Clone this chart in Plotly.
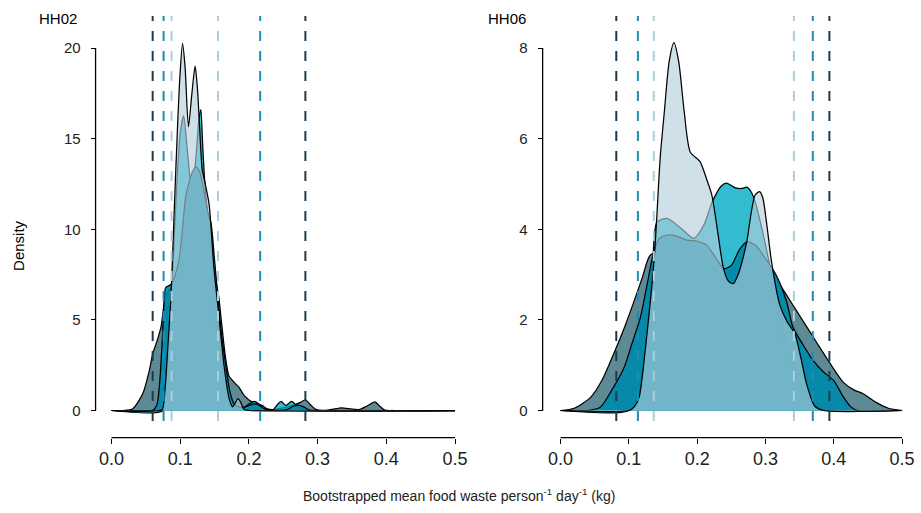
import plotly.graph_objects as go

# ---------------------------------------------------------------
# Bootstrapped density estimates, household HH02
# ---------------------------------------------------------------
hh02_dark_x = [0.0, 0.02, 0.031, 0.0454, 0.055, 0.06, 0.066, 0.072, 0.078, 0.083, 0.09, 0.1, 0.11, 0.12,
               0.13, 0.14, 0.15, 0.156, 0.16, 0.166, 0.171, 0.176, 0.1807, 0.1855, 0.193, 0.2048, 0.219,
               0.226, 0.235, 0.25, 0.265, 0.275, 0.282, 0.29, 0.298, 0.315, 0.335, 0.345, 0.36, 0.372,
               0.3836, 0.39, 0.398, 0.41, 0.5]
hh02_dark_y = [0.0, 0.01, 0.1, 0.92, 2.2, 3.13, 3.8, 4.6, 6.2, 6.6, 7.0, 8.0, 10.5, 12.0,
               12.0, 9.5, 7.5, 6.3, 4.9, 2.9, 1.9, 1.66, 1.47, 1.29, 0.83, 0.46, 0.28,
               0.1, 0.05, 0.15, 0.3, 0.45, 0.58, 0.3, 0.05, 0.02, 0.15, 0.1, 0.05, 0.25,
               0.47, 0.25, 0.02, 0.0, 0.0]

hh02_cyan_x = [0.0, 0.075, 0.08, 0.085, 0.09, 0.095, 0.1, 0.105, 0.11, 0.117, 0.123, 0.127, 0.13, 0.1324,
               0.135, 0.138, 0.142, 0.148, 0.155, 0.162, 0.17, 0.178, 0.19, 0.2, 0.208, 0.215, 0.222,
               0.235, 0.242, 0.247, 0.254, 0.262, 0.27, 0.278, 0.29, 0.5]
hh02_cyan_y = [0.0, 0.0, 1.5, 4.5, 8.5, 12.5, 15.3, 16.25, 14.5, 12.1, 14.0, 16.0, 16.6, 14.9,
               13.0, 11.6, 10.0, 7.0, 4.0, 1.8, 0.5, 0.1, 0.1, 0.35, 0.5, 0.35, 0.05,
               0.03, 0.35, 0.5, 0.28, 0.5, 0.25, 0.05, 0.0, 0.0]

hh02_teal_x = [0.0, 0.06, 0.066, 0.07, 0.074, 0.077, 0.079, 0.0865, 0.092, 0.0986, 0.104, 0.108, 0.117,
               0.1227, 0.128, 0.134, 0.14, 0.145, 0.15, 0.155, 0.16, 0.166, 0.172, 0.178, 0.185, 0.195,
               0.205, 0.212, 0.22, 0.228, 0.255, 0.265, 0.272, 0.28, 0.288, 0.3, 0.5]
hh02_teal_y = [0.0, 0.0, 0.3, 1.5, 4.0, 6.3, 6.8, 6.95, 7.4, 8.4, 10.3, 11.8, 13.1,
               13.44, 13.2, 12.2, 11.0, 10.3, 8.3, 6.2, 4.2, 2.6, 1.1, 0.4, 0.2, 0.2,
               0.35, 0.35, 0.15, 0.02, 0.05, 0.25, 0.3, 0.2, 0.02, 0.0, 0.0]

hh02_light_x = [0.0, 0.07, 0.074, 0.078, 0.082, 0.0865, 0.0913, 0.0961, 0.0995, 0.1034, 0.107, 0.112,
                0.117, 0.1217, 0.125, 0.128, 0.132, 0.137, 0.142, 0.149, 0.1565, 0.164, 0.171, 0.176,
                0.18, 0.184, 0.188, 0.193, 0.2, 0.5]
hh02_light_y = [0.0, 0.0, 0.05, 1.2, 3.5, 6.26, 11.05, 15.65, 18.4, 20.26, 19.0, 15.65,
                17.5, 19.0, 17.8, 15.8, 13.3, 12.4, 11.4, 7.9, 5.15, 2.4, 0.7, 0.2,
                0.4, 0.65, 0.45, 0.05, 0.0, 0.0]

# ---------------------------------------------------------------
# Bootstrapped density estimates, household HH06
# ---------------------------------------------------------------
hh06_dark_x = [0.0, 0.02, 0.044, 0.06, 0.08, 0.094, 0.108, 0.12, 0.13, 0.14, 0.16, 0.2, 0.24, 0.27, 0.3,
               0.319, 0.335, 0.356, 0.375, 0.392, 0.414, 0.43, 0.443, 0.462, 0.48, 0.5]
hh06_dark_y = [0.0, 0.05, 0.29, 0.65, 1.33, 1.85, 2.43, 2.95, 3.4, 3.52, 3.65, 3.55, 3.0, 3.4, 3.25,
               2.83, 2.45, 1.95, 1.5, 1.1, 0.62, 0.45, 0.37, 0.18, 0.05, 0.0]

hh06_cyan_x = [0.0, 0.1, 0.115, 0.125, 0.135, 0.141, 0.156, 0.178, 0.195, 0.21, 0.222, 0.235, 0.243,
               0.255, 0.265, 0.273, 0.28, 0.287, 0.295, 0.305, 0.315, 0.325, 0.335, 0.35, 0.365,
               0.38, 0.39, 0.5]
hh06_cyan_y = [0.0, 0.0, 0.4, 1.5, 3.3, 4.15, 4.24, 4.0, 3.8, 4.1, 4.6, 4.95, 5.02,
               4.92, 4.9, 4.93, 4.8, 4.5, 4.0, 3.3, 2.5, 1.8, 1.2, 0.6, 0.25,
               0.05, 0.0, 0.0]

hh06_teal_x = [0.0, 0.04, 0.058, 0.075, 0.093, 0.105, 0.117, 0.127, 0.137, 0.145, 0.156, 0.17, 0.185,
               0.2, 0.214, 0.228, 0.239, 0.25, 0.262, 0.273, 0.285, 0.297, 0.316, 0.331, 0.34, 0.355,
               0.37, 0.385, 0.4, 0.414, 0.425, 0.435, 0.5]
hh06_teal_y = [0.0, 0.0, 0.07, 0.45, 0.95, 1.5, 2.06, 2.8, 3.54, 3.8, 3.87, 3.85, 3.76,
               3.74, 3.65, 3.35, 3.13, 3.2, 3.55, 3.72, 3.65, 3.42, 2.98, 2.4, 1.85, 1.45,
               1.1, 0.85, 0.66, 0.3, 0.08, 0.0, 0.0]

hh06_light_x = [0.0, 0.1, 0.108, 0.115, 0.124, 0.134, 0.138, 0.141, 0.146, 0.152, 0.159, 0.166, 0.173,
                0.181, 0.19, 0.204, 0.214, 0.2216, 0.23, 0.2386, 0.246, 0.253, 0.26, 0.266, 0.2726,
                0.2847, 0.2915, 0.296, 0.302, 0.309, 0.321, 0.332, 0.343, 0.352, 0.36, 0.372, 0.385, 0.5]
hh06_light_y = [0.0, 0.0, 0.08, 0.29, 1.33, 2.8, 3.54, 4.3, 5.6, 6.6, 7.7, 8.12, 7.7,
                6.6, 5.7, 5.5, 5.1, 4.75, 3.95, 3.13, 2.85, 2.8, 3.0, 3.3, 3.72,
                4.75, 4.83, 4.7, 4.1, 3.27, 2.33, 1.95, 1.7, 1.15, 0.6, 0.1, 0.0, 0.0]

# Interval limits (dashed lines), one pair per estimate
hh02_limits = {"dark": [0.0599, 0.2822], "teal": [0.0758, 0.2164], "light": [0.0874, 0.155]}
hh06_limits = {"dark": [0.0816, 0.3936], "teal": [0.1132, 0.3693], "light": [0.1365, 0.3416]}

x_ticks = [0.0, 0.1, 0.2, 0.3, 0.4, 0.5]
x_tick_text = ["0.0", "0.1", "0.2", "0.3", "0.4", "0.5"]
hh02_y_ticks = [0, 5, 10, 15, 20]
hh06_y_ticks = [0, 2, 4, 6, 8]

# ---------------------------------------------------------------
# Styling
# ---------------------------------------------------------------
W, H = 921, 513
FONT = "Liberation Sans, Arial, Helvetica, sans-serif"
FILLS = {
    "dark": "rgba(26,88,104,0.70)",
    "cyan": "rgba(0,171,195,0.80)",
    "teal": "rgba(0,138,170,0.92)",
    "light": "rgba(181,206,219,0.63)",
}
DASH_COLORS = {"dark": "#1b3a4e", "teal": "#1c8db5", "light": "#a9cfe0"}


def px_x(p):
    return p / W


def px_y(p):
    return 1 - p / H


fig = go.Figure()

panels = [
    ("x", "y", [
        ("dark", hh02_dark_x, hh02_dark_y),
        ("cyan", hh02_cyan_x, hh02_cyan_y),
        ("teal", hh02_teal_x, hh02_teal_y),
        ("light", hh02_light_x, hh02_light_y),
    ]),
    ("x2", "y2", [
        ("dark", hh06_dark_x, hh06_dark_y),
        ("cyan", hh06_cyan_x, hh06_cyan_y),
        ("teal", hh06_teal_x, hh06_teal_y),
        ("light", hh06_light_x, hh06_light_y),
    ]),
]

for xa, ya, curves in panels:
    for key, xs, ys in curves:
        fig.add_trace(go.Scatter(
            x=xs, y=ys, xaxis=xa, yaxis=ya,
            mode="lines", fill="tozeroy", fillcolor=FILLS[key],
            line=dict(color="black", width=1.25, shape="spline", smoothing=0.7),
            hoverinfo="skip", showlegend=False,
        ))

# Positions of the (offset) axis lines
x_axis_pos = px_y(437.7)
y_axis_pos = {"y": px_x(96), "y2": px_x(545)}

shapes = []
for xa, ya, limits in [("x", "y", hh02_limits), ("x2", "y2", hh06_limits)]:
    for key in ["light", "teal", "dark"]:
        for v in limits[key]:
            shapes.append(dict(
                type="line", xref=xa, yref=ya + " domain", x0=v, x1=v, y0=0, y1=1,
                line=dict(color=DASH_COLORS[key], width=2, dash="10px,10px"), layer="above",
            ))

# Capped axis lines
for xa, ya, ytop in [("x", "y", 20), ("x2", "y2", 8)]:
    shapes.append(dict(type="line", xref=xa, yref="paper", x0=0, x1=0.5,
                       y0=x_axis_pos, y1=x_axis_pos, line=dict(color="black", width=1.3)))
    shapes.append(dict(type="line", xref="paper", yref=ya, x0=y_axis_pos[ya], x1=y_axis_pos[ya],
                       y0=0, y1=ytop, line=dict(color="black", width=1.3)))

y_domain = [px_y(421), px_y(16)]

axis_common = dict(showgrid=False, zeroline=False, showline=False, ticks="outside",
                   ticklen=5, tickwidth=1.2, tickcolor="black")
x_font = dict(size=18, family=FONT, color="#222222")
y_font = dict(size=15, family=FONT, color="#222222")

fig.update_layout(
    width=W, height=H,
    margin=dict(l=0, r=0, t=0, b=0),
    paper_bgcolor="white", plot_bgcolor="white",
    showlegend=False,
    font=dict(family=FONT, color="#222222"),
    xaxis=dict(domain=[px_x(96), px_x(470)], range=[-16 / 690, 0.5 + 13 / 690],
               anchor="free", position=x_axis_pos,
               tickvals=x_ticks, ticktext=x_tick_text, tickfont=x_font, **axis_common),
    yaxis=dict(domain=y_domain, range=[-10.5 / 18.125, 394.5 / 18.125],
               anchor="free", position=y_axis_pos["y"],
               tickvals=hh02_y_ticks, tickfont=y_font, ticklabelstandoff=7, **axis_common),
    xaxis2=dict(domain=[px_x(545), px_x(915)], range=[-18 / 686, 0.5 + 9 / 686],
                anchor="free", position=x_axis_pos,
                tickvals=x_ticks, ticktext=x_tick_text, tickfont=x_font, **axis_common),
    yaxis2=dict(domain=y_domain, range=[-10.5 / 45.31, 394.5 / 45.31],
                anchor="free", position=y_axis_pos["y2"],
                tickvals=hh06_y_ticks, tickfont=y_font, ticklabelstandoff=7, **axis_common),
    shapes=shapes,
    annotations=[
        dict(text="HH02", x=px_x(37), y=px_y(18), xref="paper", yref="paper",
             xanchor="left", yanchor="middle", showarrow=False,
             font=dict(size=15, family=FONT, color="black")),
        dict(text="HH06", x=px_x(488), y=px_y(18), xref="paper", yref="paper",
             xanchor="left", yanchor="middle", showarrow=False,
             font=dict(size=15, family=FONT, color="black")),
        dict(text="Density", x=px_x(18), y=px_y(245), xref="paper", yref="paper",
             xanchor="center", yanchor="middle", textangle=-90, showarrow=False,
             font=dict(size=15, family=FONT, color="black")),
        dict(text="Bootstrapped mean food waste person<sup>-1</sup> day<sup>-1</sup> (kg)",
             x=px_x(461), y=px_y(495), xref="paper", yref="paper",
             xanchor="center", yanchor="middle", showarrow=False,
             font=dict(size=14, family=FONT, color="#222222")),
    ],
)

fig.write_html("out.html")
